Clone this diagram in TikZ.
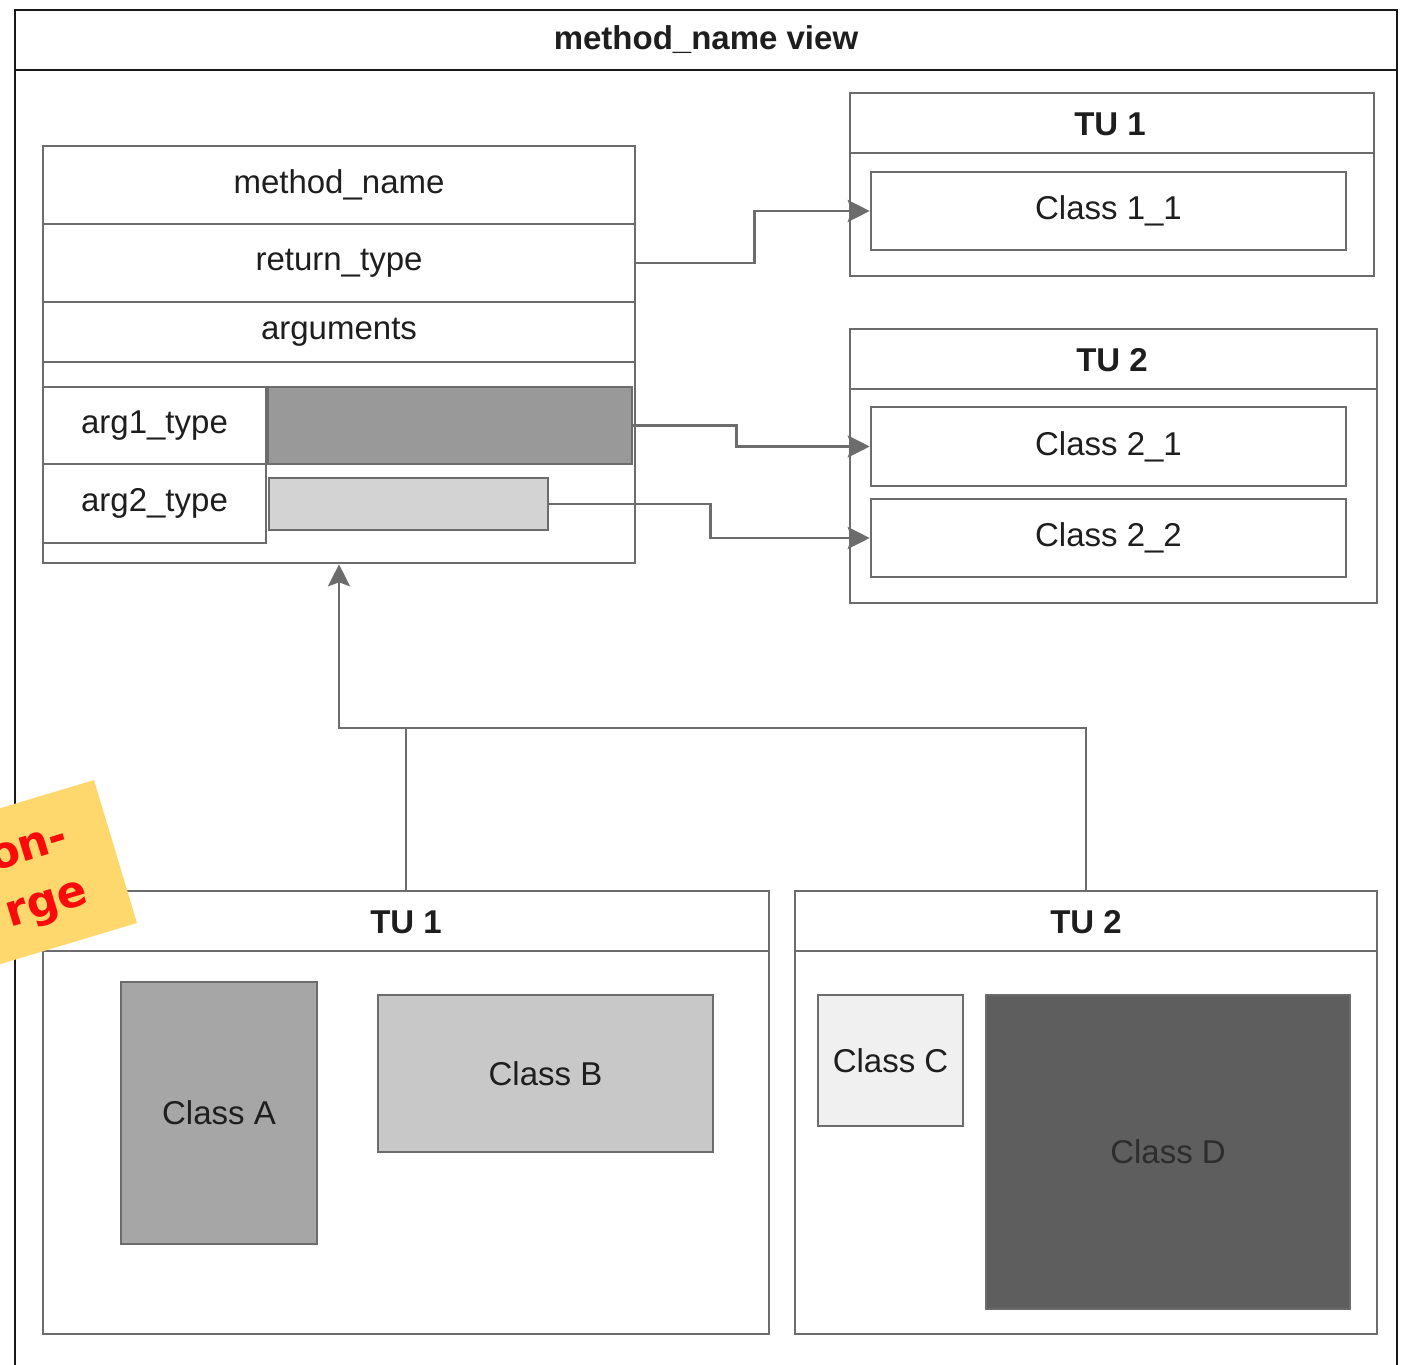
\documentclass[tikz,border=0pt]{standalone}
\usepackage{fontspec}
\setmainfont{Liberation Sans}
\newfontfamily\notefont{DejaVu Sans}
\usetikzlibrary{fit,arrows.meta}
\definecolor{lc}{RGB}{108,108,108}
\definecolor{framec}{RGB}{25,25,25}
\definecolor{txt}{RGB}{30,30,30}
\definecolor{darkbar}{RGB}{153,153,153}
\definecolor{lightbar}{RGB}{211,211,211}
\definecolor{fillA}{RGB}{166,166,166}
\definecolor{fillB}{RGB}{200,200,200}
\definecolor{fillC}{RGB}{240,240,240}
\definecolor{fillD}{RGB}{94,94,94}
\definecolor{notey}{RGB}{254,216,108}
\definecolor{notered}{RGB}{250,10,10}
\definecolor{dtext}{RGB}{45,45,45}
\tikzset{
  rbox/.style={draw=lc, line width=1.3pt, inner sep=0pt},
  frame/.style={draw=framec, line width=1.4pt, inner sep=0pt},
  sepline/.style={draw=lc, line width=1.3pt},
  lbl/.style={text=txt, font=\fontsize{16.5}{20}\selectfont, inner sep=0pt},
  ttl/.style={text=txt, font=\fontsize{16.5}{20}\selectfont\bfseries, inner sep=0pt},
  conn/.style={draw=lc, line width=1.3pt, -{Stealth[length=11pt,width=11pt,inset=2pt]}},
  plain/.style={draw=lc, line width=1.3pt},
  notetxt/.style={text=notered, font=\fontsize{22}{29}\selectfont\notefont\bfseries, inner sep=0pt, rotate=17, align=left}
}
\begin{document}
\begin{tikzpicture}[x=0.5pt,y=-0.5pt]
\useasboundingbox (0,0) rectangle (1411,1364);
\clip (0,0) rectangle (1411,1364);

% outer view frame
\node[frame, fit={(15,10) (1397,1400)}] (view) {};
\draw[framec, line width=1.4pt] (15,70) -- (1397,70);
\node[ttl] (viewtitle) at (706,40) {method\_name view};

% method box
\node[rbox, fit={(43,146) (635,563)}] (method) {};
\node[rbox, fit={(43,146) (635,224)}] (row1) {};
\node[rbox, fit={(43,224) (635,302)}] (row2) {};
\node[rbox, fit={(43,302) (635,362)}] (row3) {};
\node[lbl] (mname) at (row1.center) {method\_name};
\node[lbl] (rtype) at (row2.center) {return\_type};
\node[lbl] (args) at (row3.center) {arguments};
\node[rbox, fit={(43,387) (266,464)}] (a1) {};
\node[rbox, fit={(43,464) (266,543)}] (a2) {};
\node[lbl] (a1t) at (a1.center) {arg1\_type};
\node[lbl] (a2t) at (a2.center) {arg2\_type};
\node[rbox, fill=darkbar, fit={(268,387) (632,464)}] (bar1) {};
\node[rbox, fill=lightbar, fit={(269,478) (548,530)}] (bar2) {};

% right TU 1
\node[rbox, fit={(850,93) (1374,276)}] (tur1) {};
\draw[sepline] (850,153) -- (1374,153);
\node[ttl] (tur1t) at (1110,124) {TU 1};
\node[rbox, fit={(871,172) (1346,250)}] (c11) {};
\node[lbl] (c11t) at (c11.center) {Class 1\_1};

% right TU 2
\node[rbox, fit={(850,329) (1377,603)}] (tur2) {};
\draw[sepline] (850,389) -- (1377,389);
\node[ttl] (tur2t) at (1112,360) {TU 2};
\node[rbox, fit={(871,407) (1346,486)}] (c21) {};
\node[lbl] (c21t) at (c21.center) {Class 2\_1};
\node[rbox, fit={(871,499) (1346,577)}] (c22) {};
\node[lbl] (c22t) at (c22.center) {Class 2\_2};

% bottom TU 1
\node[rbox, fit={(43,891) (769,1334)}] (tub1) {};
\draw[sepline] (43,951) -- (769,951);
\node[ttl] (tub1t) at (406,922) {TU 1};
\node[rbox, fill=fillA, fit={(121,982) (317,1244)}] (ca) {};
\node[lbl] (cat) at (ca.center) {Class A};
\node[rbox, fill=fillB, fit={(378,995) (713,1152)}] (cb) {};
\node[lbl] (cbt) at (cb.center) {Class B};

% bottom TU 2
\node[rbox, fit={(795,891) (1377,1334)}] (tub2) {};
\draw[sepline] (795,951) -- (1377,951);
\node[ttl] (tub2t) at (1086,922) {TU 2};
\node[rbox, fill=fillC, fit={(818,995) (963,1126)}] (cc) {};
\node[lbl] (cct) at (cc.center) {Class C};
\node[rbox, fill=fillD, fit={(986,995) (1350,1309)}] (cd) {};
\node[lbl, text=dtext] (cdt) at (cd.center) {Class D};

% connectors
\draw[conn] (row2.east) -- ++(118,0) |- (c11.west);
\draw[conn] (bar1.east) -- ++(103,0) |- (c21.west);
\draw[conn] (bar2.east) -- ++(161,0) |- (c22.west);
\coordinate (join) at (406,728);
\draw[conn] (tub1.north) -- (join) -| (method.south);
\draw[plain] (tub2.north) |- (join);

% sticky note
\fill[notey] (94,780) -- (137,923) -- (-54.6,980.6) -- (-97.6,837.6) -- cycle;
\node[notetxt] (note) at (40,880) {on-\\rge};
\end{tikzpicture}
\end{document}
